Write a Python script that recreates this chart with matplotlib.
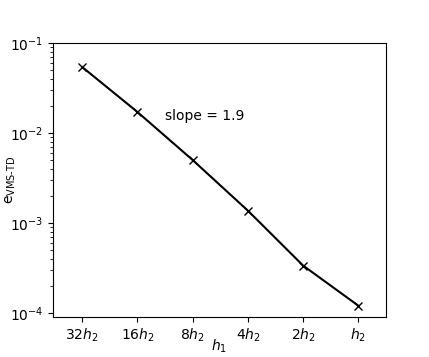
import matplotlib
matplotlib.use("Agg")
import matplotlib.pyplot as plt
import numpy as np

tick_labels = [r'$32h_2$', r'$16h_2$', r'$8h_2$', r'$4h_2$', r'$2h_2$', r'$h_2$']
errors = [0.054, 0.0171, 0.0050, 0.00137, 0.000336, 0.0001205]

fig = plt.figure(figsize=(4.29, 3.57), dpi=100)
ax = fig.add_axes([53/429, 40/357, 333/429, 274/357])
x = np.arange(len(errors))
ax.plot(x, errors, color='black', marker='x', markersize=5.5, markeredgewidth=1.0, linewidth=1.5)
ax.set_yscale('log')
ax.set_ylim(9.03e-5, 1e-1)
ax.set_xlim(-0.53, 5.5)
ax.set_xticks(x)
ax.set_xticklabels(tick_labels)
ax.set_xlabel(r'$h_1$')
ax.set_ylabel(r'e$_{\mathrm{VMS\text{-}TD}}$')
ax.yaxis.set_label_coords(-0.105, 0.5)
ax.xaxis.set_label_coords(0.5, -0.075)
ax.text(1.5, 0.0155, 'slope = 1.9', fontsize=10, va='center', ha='left')
fig.savefig('out.png', dpi=100)
